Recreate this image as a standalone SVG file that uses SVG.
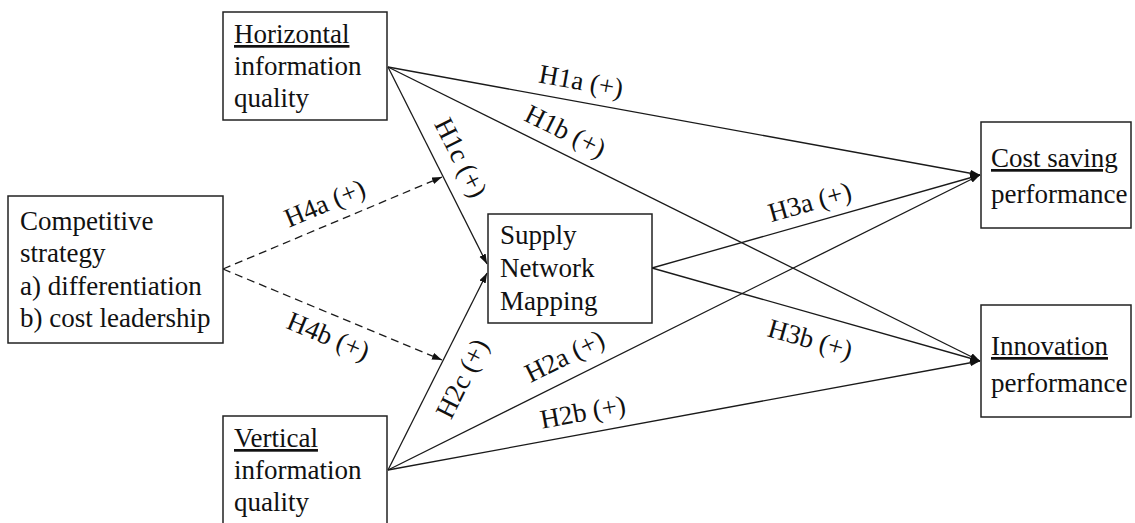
<svg xmlns="http://www.w3.org/2000/svg" width="1135" height="523" viewBox="0 0 1135 523">
  <style>
    .box { fill: #ffffff; stroke: #222222; stroke-width: 1.5; }
    .txt { font-family: "Liberation Serif", "Times New Roman", serif; font-size: 27px; fill: #111111; }
    .lbl { font-family: "Liberation Serif", "Times New Roman", serif; font-size: 27px; fill: #111111; text-anchor: middle; }
    .u { text-decoration: underline; }
    .edge { fill: none; stroke: #1a1a1a; stroke-width: 1.3; marker-end: url(#arrow); }
    .dash { stroke-dasharray: 8 5; }
  </style>
  <defs>
    <marker id="arrow" markerUnits="userSpaceOnUse" markerWidth="11" markerHeight="8" refX="10" refY="3.5" orient="auto">
      <path d="M0,0 L10,3.5 L0,7 z" fill="#111111"/>
    </marker>
  </defs>

  <rect width="1135" height="523" fill="#ffffff"/>

  <!-- connectors -->
  <g id="connectors">
    <line class="edge" x1="388" y1="67" x2="980" y2="175"/>
    <line class="edge" x1="388" y1="67" x2="980" y2="361"/>
    <line class="edge" x1="388" y1="67" x2="487" y2="264"/>
    <line class="edge" x1="388" y1="470" x2="980" y2="175"/>
    <line class="edge" x1="388" y1="470" x2="980" y2="361"/>
    <line class="edge" x1="388" y1="470" x2="487" y2="273"/>
    <line class="edge" x1="652" y1="268" x2="980" y2="175"/>
    <line class="edge" x1="652" y1="268" x2="980" y2="361"/>
    <line class="edge dash" x1="223" y1="269" x2="442" y2="177"/>
    <line class="edge dash" x1="223" y1="269" x2="442" y2="360"/>

    <!-- hypothesis labels -->
    <text class="lbl" transform="translate(581,82) rotate(10.3)" y="8">H1a (+)</text>
    <text class="lbl" transform="translate(565,132) rotate(26.4)" y="8">H1b (+)</text>
    <text class="lbl" transform="translate(460,158) rotate(63.3)" y="8">H1c (+)</text>
    <text class="lbl" transform="translate(325,204) rotate(-22.8)" y="8">H4a (+)</text>
    <text class="lbl" transform="translate(328,337) rotate(22.6)" y="8">H4b (+)</text>
    <text class="lbl" transform="translate(463,379) rotate(-63.3)" y="8">H2c (+)</text>
    <text class="lbl" transform="translate(565,357) rotate(-26.5)" y="8">H2a (+)</text>
    <text class="lbl" transform="translate(583,413) rotate(-10.4)" y="8">H2b (+)</text>
    <text class="lbl" transform="translate(810,203) rotate(-15.8)" y="8">H3a (+)</text>
    <text class="lbl" transform="translate(810,340) rotate(15.8)" y="8">H3b (+)</text>
  </g>

  <!-- nodes -->
  <g id="horizontal">
    <rect class="box" x="223" y="12" width="164" height="108"/>
    <text class="txt" x="234" y="43"><tspan class="u">Horizontal</tspan></text>
    <text class="txt" x="234" y="75">information</text>
    <text class="txt" x="234" y="107">quality</text>
  </g>

  <g id="strategy">
    <rect class="box" x="8" y="196" width="215" height="147"/>
    <text class="txt" x="20" y="230">Competitive</text>
    <text class="txt" x="20" y="262">strategy</text>
    <text class="txt" x="20" y="295">a) differentiation</text>
    <text class="txt" x="20" y="327">b) cost leadership</text>
  </g>

  <g id="mapping">
    <rect class="box" x="488" y="214" width="164" height="109"/>
    <text class="txt" x="500" y="244">Supply</text>
    <text class="txt" x="500" y="277">Network</text>
    <text class="txt" x="500" y="310">Mapping</text>
  </g>

  <g id="vertical">
    <rect class="box" x="223" y="416" width="164" height="120"/>
    <text class="txt" x="234" y="447"><tspan class="u">Vertical</tspan></text>
    <text class="txt" x="234" y="479">information</text>
    <text class="txt" x="234" y="511">quality</text>
  </g>

  <g id="cost">
    <rect class="box" x="981" y="122" width="150" height="106"/>
    <text class="txt" x="991" y="167"><tspan class="u">Cost saving</tspan></text>
    <text class="txt" x="991" y="203">performance</text>
  </g>

  <g id="innovation">
    <rect class="box" x="981" y="305" width="150" height="112"/>
    <text class="txt" x="991" y="355"><tspan class="u">Innovation</tspan></text>
    <text class="txt" x="991" y="392">performance</text>
  </g>
</svg>
